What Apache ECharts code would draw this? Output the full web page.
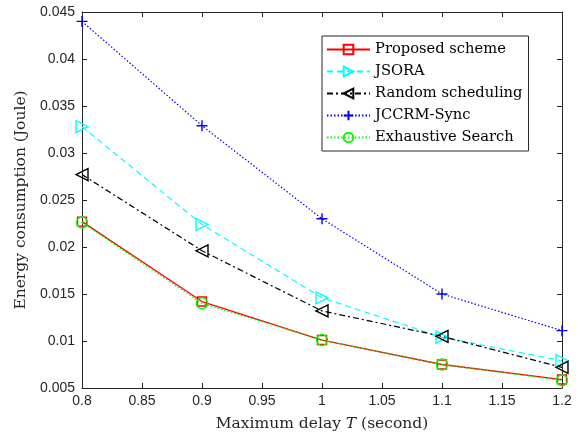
<!DOCTYPE html>
<html>
<head>
<meta charset="utf-8">
<script src="https://cdn.jsdelivr.net/npm/echarts@6/dist/echarts.min.js"></script>
<style>
  html, body { margin: 0; padding: 0; background: #fff; }
  #chart { width: 582px; height: 437px; }
</style>
</head>
<body>
<div id="chart"></div>
<script>
// maximum delay T (second)
var delays = [0.8, 0.9, 1.0, 1.1, 1.2];

// energy consumption (Joule)
var proposed   = [0.0227, 0.0142, 0.0101, 0.0075, 0.0059];
var jsora      = [0.0328, 0.0224, 0.0146, 0.0104, 0.0079];
var randomSch  = [0.0277, 0.0196, 0.0132, 0.0105, 0.0072];
var jccrmSync  = [0.0440, 0.0329, 0.0230, 0.0150, 0.0111];
var exhaustive = [0.0226, 0.0140, 0.0101, 0.0075, 0.0058];

var axisColor = '#262626';
var plusPath = 'path://M5,0L5,10M0,5L10,5';

function pairs(vals) {
  return delays.map(function (d, i) { return [d, vals[i]]; });
}

function mkSeries(name, vals, color, lineType, symbol, size, rotate, width) {
  return {
    name: name,
    type: 'line',
    data: pairs(vals),
    symbol: symbol,
    symbolSize: size,
    symbolRotate: rotate || 0,
    showAllSymbol: true,
    lineStyle: { color: color, width: width || 1.2, type: lineType },
    itemStyle: { color: 'rgba(0,0,0,0)', borderColor: color, borderWidth: 1.4 },
    emphasis: { disabled: true },
    animation: false
  };
}

var myChart = echarts.init(document.getElementById('chart'));

var option = {
  backgroundColor: '#fff',
  grid: { left: 82, right: 20, top: 12, bottom: 48 },
  legend: {
    orient: 'vertical',
    left: 322,
    top: 36,
    backgroundColor: '#fff',
    borderColor: axisColor,
    borderWidth: 1,
    borderRadius: 0,
    padding: [6, 6, 6, 4],
    itemWidth: 43,
    itemHeight: 12,
    itemGap: 7,
    textStyle: { fontFamily: 'DejaVu Serif', fontSize: 14.7, color: '#000' },
    data: ['Proposed scheme', 'JSORA', 'Random scheduling', 'JCCRM-Sync', 'Exhaustive Search']
  },
  xAxis: [{
    type: 'value',
    min: 0.8,
    max: 1.2,
    interval: 0.05,
    name: 'Maximum delay {i|T} (second)',
    nameLocation: 'middle',
    nameGap: 28,
    nameTextStyle: {
      fontFamily: 'DejaVu Serif', fontSize: 15.5, color: axisColor,
      rich: { i: { fontFamily: 'DejaVu Serif', fontStyle: 'italic', fontSize: 15.5, color: axisColor } }
    },
    axisLine: { onZero: false, lineStyle: { color: axisColor } },
    axisTick: { inside: true, length: 5, lineStyle: { color: axisColor } },
    axisLabel: {
      fontFamily: 'Liberation Sans', fontSize: 14, color: axisColor, margin: 6,
      formatter: function (v) { return String(+v.toFixed(2)); }
    },
    splitLine: { show: false }
  }, {
    type: 'value',
    position: 'top',
    min: 0.8,
    max: 1.2,
    interval: 0.05,
    axisLine: { onZero: false, lineStyle: { color: axisColor } },
    axisTick: { inside: true, length: 5, lineStyle: { color: axisColor } },
    axisLabel: { show: false },
    splitLine: { show: false }
  }],
  yAxis: [{
    type: 'value',
    min: 0.005,
    max: 0.045,
    interval: 0.005,
    name: 'Energy consumption (Joule)',
    nameLocation: 'middle',
    nameGap: 49,
    nameTextStyle: { fontFamily: 'DejaVu Serif', fontSize: 15.5, color: axisColor },
    axisLine: { show: true, onZero: false, lineStyle: { color: axisColor } },
    axisTick: { show: true, inside: true, length: 5, lineStyle: { color: axisColor } },
    axisLabel: {
      fontFamily: 'Liberation Sans', fontSize: 14, color: axisColor, margin: 7,
      formatter: function (v) { return String(+v.toFixed(3)); }
    },
    splitLine: { show: false }
  }, {
    type: 'value',
    position: 'right',
    min: 0.005,
    max: 0.045,
    interval: 0.005,
    axisLine: { show: true, onZero: false, lineStyle: { color: axisColor } },
    axisTick: { show: true, inside: true, length: 5, lineStyle: { color: axisColor } },
    axisLabel: { show: false },
    splitLine: { show: false }
  }],
  series: [
    mkSeries('Proposed scheme', proposed, '#ff0000', 'solid', 'rect', 9, 0, 1.3),
    mkSeries('JSORA', jsora, '#00ffff', [6, 4], 'triangle', 12, -90),
    mkSeries('Random scheduling', randomSch, '#000000', [6, 3, 2, 3], 'triangle', 12, 90),
    mkSeries('JCCRM-Sync', jccrmSync, '#0000ff', [1.5, 2], plusPath, 11, 0),
    mkSeries('Exhaustive Search', exhaustive, '#00ff00', [1.5, 2], 'circle', 11, 0)
  ]
};

myChart.setOption(option);
</script>
</body>
</html>
